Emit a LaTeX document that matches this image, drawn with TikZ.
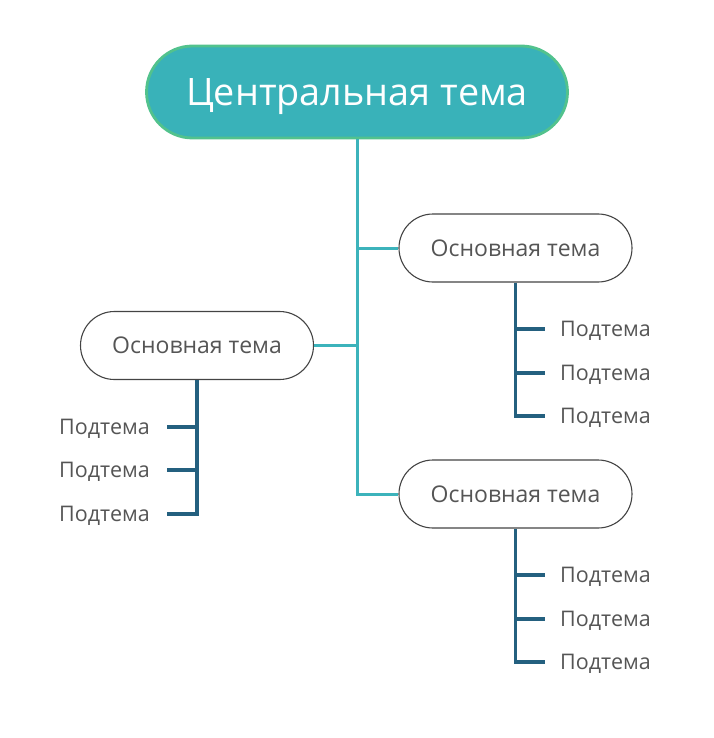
\documentclass[tikz,border=0pt]{standalone}
\usepackage{fontspec}
\setmainfont{Open Sans}
\usetikzlibrary{positioning}
\definecolor{rootfill}{HTML}{39B2B9}
\definecolor{rootedge}{HTML}{52C28D}
\definecolor{trunk}{HTML}{3CB3BB}
\definecolor{twig}{HTML}{24607F}
\definecolor{textgray}{HTML}{555555}
\definecolor{boxedge}{HTML}{444444}

\begin{document}
\begin{tikzpicture}[x=1pt, y=-1pt]
% --- Styles ---
\tikzstyle{root} = [draw=rootedge, line width=2.8pt, fill=rootfill, rounded corners=46pt,
  minimum width=421pt, minimum height=92pt, inner sep=0pt, text depth=0pt,
  text=white, font=\fontsize{37.8}{42}\selectfont]
\tikzstyle{topic} = [draw=boxedge, line width=1.1pt, fill=white, rounded corners=34pt,
  minimum width=233pt, minimum height=68pt, inner sep=0pt, text=textgray, font=\fontsize{23}{27}\selectfont]
\tikzstyle{subtopic} = [inner sep=0pt, text depth=0pt, text=textgray, font=\fontsize{21.5}{25}\selectfont]
\tikzstyle{trunkline} = [draw=trunk, line width=3pt]
\tikzstyle{twigline} = [draw=twig, line width=3.4pt]

\useasboundingbox (0,0) rectangle (713,738);

% --- Central and main topics ---
\node[root] (centre) at (357,92) {Центральная тема};
\node[topic] (mainA) at (515.5,248) {Основная тема};
\node[topic] (mainB) at (197,345.5) {Основная тема};
\node[topic] (mainC) at (515.5,494) {Основная тема};

% --- Trunk from the central topic ---
\draw[trunkline] (centre.south) -- (centre.south |- mainC.west) -- (mainC.west);
\draw[trunkline] (centre.south |- mainA.west) -- (mainA.west);
\draw[trunkline] (mainB.east) -- (centre.south |- mainB.east);

% --- Right upper subtopics ---
\node[subtopic, anchor=west] (subA1) at (560,329) {Подтема};
\node[subtopic, anchor=west] (subA2) at (560,373) {Подтема};
\node[subtopic, anchor=west] (subA3) at (560,416) {Подтема};
\draw[twigline] (mainA.south) -- (mainA.south |- subA3.west) -- ([xshift=-15pt]subA3.west);
\draw[twigline] (mainA.south |- subA1.west) -- ([xshift=-15pt]subA1.west);
\draw[twigline] (mainA.south |- subA2.west) -- ([xshift=-15pt]subA2.west);

% --- Left subtopics ---
\node[subtopic, anchor=east] (subB1) at (150,427) {Подтема};
\node[subtopic, anchor=east] (subB2) at (150,470) {Подтема};
\node[subtopic, anchor=east] (subB3) at (150,514) {Подтема};
\draw[twigline] (mainB.south) -- (mainB.south |- subB3.east) -- ([xshift=17pt]subB3.east);
\draw[twigline] (mainB.south |- subB1.east) -- ([xshift=17pt]subB1.east);
\draw[twigline] (mainB.south |- subB2.east) -- ([xshift=17pt]subB2.east);

% --- Right lower subtopics ---
\node[subtopic, anchor=west] (subC1) at (560,575) {Подтема};
\node[subtopic, anchor=west] (subC2) at (560,619) {Подтема};
\node[subtopic, anchor=west] (subC3) at (560,662) {Подтема};
\draw[twigline] (mainC.south) -- (mainC.south |- subC3.west) -- ([xshift=-15pt]subC3.west);
\draw[twigline] (mainC.south |- subC1.west) -- ([xshift=-15pt]subC1.west);
\draw[twigline] (mainC.south |- subC2.west) -- ([xshift=-15pt]subC2.west);

\end{tikzpicture}
\end{document}
